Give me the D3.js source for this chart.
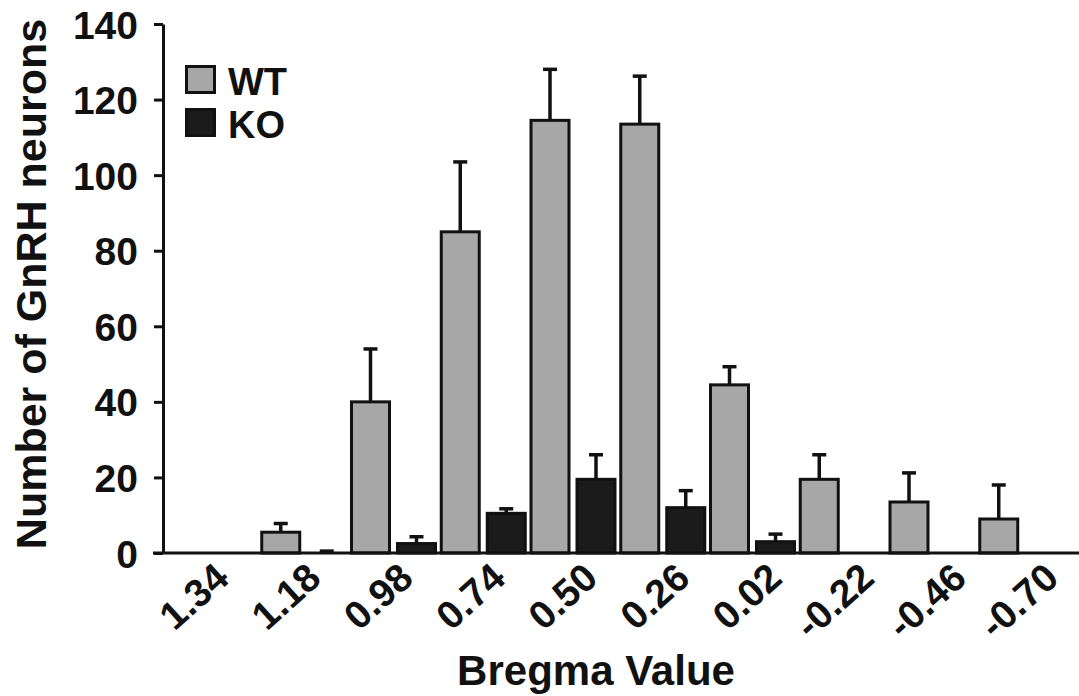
<!DOCTYPE html>
<html>
<head>
<meta charset="utf-8">
<script src="https://cdn.jsdelivr.net/npm/d3@7"></script>
<style>
  html, body { margin: 0; padding: 0; background: #fff; }
  svg { display: block; }
  text { font-family: "Liberation Sans", Arial, Helvetica, sans-serif; font-weight: bold; fill: #111; }
</style>
</head>
<body>
<script>
// Bregma positions (mm) along the rostro-caudal axis
const bregma = ["1.34", "1.18", "0.98", "0.74", "0.50", "0.26", "0.02", "-0.22", "-0.46", "-0.70"];
const groups = ["WT", "KO"];
// Mean GnRH neuron counts and SEM per section
const wtMean = [0, 5.5, 40, 85, 114.5, 113.5, 44.5, 19.5, 13.5, 9];
const wtSem  = [0, 2.3, 14, 18.5, 13.5, 12.7, 4.8, 6.5, 7.7, 9];
const koMean = [0, 0, 2.5, 10.5, 19.5, 12, 3, 0, 0, 0];
const koSem  = [0, 0.5, 1.8, 1.2, 6.5, 4.5, 2, 0, 0, 0];
const yTicks = [0, 20, 40, 60, 80, 100, 120, 140];

const W = 1079, H = 696;
const fills = { WT: "#a7a7a7", KO: "#1b1b1b" };
const ink = "#111";

const svg = d3.select("body").append("svg").attr("width", W).attr("height", H);

const y = d3.scaleLinear().domain([0, 140]).range([553, 24]);
const x = d3.scaleBand().domain(bregma).range([168, 168 + 89.75 * 10]).paddingInner(0).paddingOuter(0);
const xs = d3.scaleBand().domain(groups).range([4, 88]).paddingInner(0.174).paddingOuter(0);
// Category labels sit on their own, slightly wider spacing
const xLabel = d3.scalePoint().domain(bregma).range([231, 231 + 92.2 * 9]);

const rows = [];
bregma.forEach((b, i) => {
  rows.push({ b, g: "WT", v: wtMean[i], e: wtSem[i] });
  rows.push({ b, g: "KO", v: koMean[i], e: koSem[i] });
});

// Error bars (upper whisker only), drawn behind the bars
const err = svg.append("g").attr("stroke", ink).attr("stroke-width", 3.5);
rows.filter(d => d.e > 0).forEach(d => {
  const cx = x(d.b) + xs(d.g) + xs.bandwidth() / 2;
  err.append("line").attr("x1", cx).attr("x2", cx).attr("y1", y(d.v)).attr("y2", y(d.v + d.e));
  err.append("line").attr("x1", cx - 7).attr("x2", cx + 7).attr("y1", y(d.v + d.e)).attr("y2", y(d.v + d.e));
});

// Bars
svg.append("g").selectAll("rect")
  .data(rows.filter(d => d.v > 0))
  .join("rect")
  .attr("x", d => x(d.b) + xs(d.g))
  .attr("width", xs.bandwidth())
  .attr("y", d => y(d.v))
  .attr("height", d => y(0) - y(d.v))
  .attr("fill", d => fills[d.g])
  .attr("stroke", ink)
  .attr("stroke-width", 3);

// Y axis
const yAxis = svg.append("g").attr("transform", "translate(163,0)")
  .call(d3.axisLeft(y).tickValues(yTicks).tickSize(9).tickSizeOuter(0).tickPadding(16));
yAxis.select(".domain").attr("stroke", ink).attr("stroke-width", 3);
yAxis.selectAll(".tick line").attr("stroke", ink).attr("stroke-width", 3);
yAxis.selectAll(".tick text").attr("font-size", 39).attr("font-family", null).attr("fill", ink).attr("dy", "0.36em");

// X baseline
svg.append("line").attr("x1", 153).attr("x2", W).attr("y1", y(0)).attr("y2", y(0))
  .attr("stroke", ink).attr("stroke-width", 3);

// X tick labels, rotated
svg.append("g").selectAll("text")
  .data(bregma)
  .join("text")
  .attr("transform", d => `translate(${xLabel(d)},581) rotate(-42)`)
  .attr("text-anchor", "end")
  .attr("font-size", 39)
  .text(d => d);

// Axis titles
svg.append("text")
  .attr("transform", "translate(46,284) rotate(-90)")
  .attr("text-anchor", "middle")
  .attr("font-size", 43)
  .text("Number of GnRH neurons");

svg.append("text")
  .attr("x", 596).attr("y", 685)
  .attr("text-anchor", "middle")
  .attr("font-size", 42)
  .text("Bregma Value");

// Legend
const legend = svg.append("g");
groups.forEach((g, i) => {
  const ly = 66.5 + i * 43;
  legend.append("rect").attr("x", 186.5).attr("y", ly).attr("width", 28).attr("height", 26)
    .attr("fill", fills[g]).attr("stroke", ink).attr("stroke-width", 3);
  legend.append("text").attr("x", 228).attr("y", ly + 28).attr("font-size", 38).text(g);
});
</script>
</body>
</html>
